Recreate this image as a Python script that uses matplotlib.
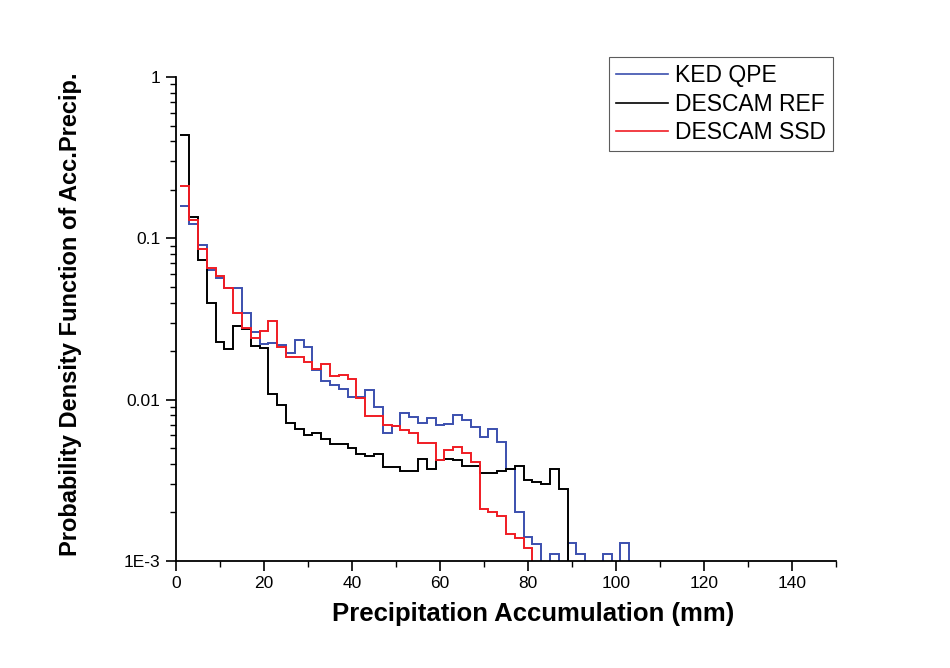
import matplotlib
matplotlib.use('Agg')
import matplotlib.pyplot as plt
from matplotlib.ticker import FixedLocator, FixedFormatter, LogLocator, MultipleLocator, NullFormatter
import numpy as np

plt.rcParams['font.family'] = ['Liberation Sans', 'DejaVu Sans']

# histogram bins of 2 mm, edges at odd mm (1, 3, 5, ... 105)
bin_edges = np.arange(1, 107, 2)

ked_qpe = [0.159, 0.122, 0.091, 0.0636, 0.057, 0.049, 0.049, 0.0346, 0.0261, 0.0222,
           0.0224, 0.0218, 0.0194, 0.0236, 0.0212, 0.0152, 0.0130, 0.0124, 0.0116, 0.0104,
           0.0104, 0.0114, 0.0090, 0.0062, 0.0069, 0.0083, 0.0078, 0.0072, 0.0077, 0.0070,
           0.0071, 0.0080, 0.0075, 0.0068, 0.0059, 0.0066, 0.0055, 0.0037, 0.0020, 0.0014,
           0.00128, 0, 0.0011, 0, 0.0013, 0.0011, 0, 0, 0.0011, 0,
           0.0013, 0]

descam_ref = [0.44, 0.135, 0.073, 0.0395, 0.0229, 0.0205, 0.0286, 0.0273, 0.0215, 0.0208,
              0.0108, 0.0093, 0.0072, 0.0066, 0.0060, 0.0062, 0.0057, 0.0053, 0.0053, 0.0050,
              0.0046, 0.0045, 0.0046, 0.0038, 0.0038, 0.0036, 0.0036, 0.0043, 0.0037, 0.0042,
              0.0043, 0.0042, 0.0039, 0.0039, 0.0035, 0.0035, 0.0036, 0.0037, 0.0039, 0.0032,
              0.0031, 0.0030, 0.0037, 0.0028, 0, 0, 0, 0, 0, 0,
              0, 0]

descam_ssd = [0.212, 0.130, 0.0855, 0.0651, 0.0584, 0.0494, 0.0346, 0.0280, 0.0240, 0.0267,
              0.0308, 0.0213, 0.0185, 0.0184, 0.0172, 0.0156, 0.0167, 0.0141, 0.0143, 0.0134,
              0.0102, 0.0079, 0.0079, 0.0070, 0.0069, 0.0065, 0.0062, 0.0054, 0.0054, 0.0042,
              0.0049, 0.0051, 0.0047, 0.0041, 0.0021, 0.0020, 0.0019, 0.00148, 0.00138, 0.00120,
              0, 0, 0, 0, 0, 0, 0, 0, 0, 0,
              0, 0]

y_ticks = [1e-3, 1e-2, 1e-1, 1]
y_ticklabels = ['1E-3', '0.01', '0.1', '1']

fig = plt.figure(figsize=(9.5, 6.68), dpi=100)
ax = fig.add_axes([176/950, 1-561/668, 660/950, 484/668])
ax.set_yscale('log')

ax.stairs(ked_qpe, bin_edges, baseline=None, color='#3b4fae', lw=1.4, label='KED QPE')
ax.stairs(descam_ref, bin_edges, baseline=None, color='black', lw=1.4, label='DESCAM REF')
ax.stairs(descam_ssd, bin_edges, baseline=None, color='#f01c24', lw=1.4, label='DESCAM SSD')

ax.set_xlim(0, 150)
ax.set_ylim(1e-3, 1)
ax.xaxis.set_major_locator(MultipleLocator(20))
ax.xaxis.set_minor_locator(MultipleLocator(10))
ax.yaxis.set_major_locator(FixedLocator(y_ticks))
ax.yaxis.set_major_formatter(FixedFormatter(y_ticklabels))
ax.yaxis.set_minor_locator(LogLocator(base=10, subs=np.arange(2, 10)))
ax.yaxis.set_minor_formatter(NullFormatter())

for s in ['top', 'right']:
    ax.spines[s].set_visible(False)
for s in ['left', 'bottom']:
    ax.spines[s].set_linewidth(1.3)

ax.tick_params(which='major', direction='out', length=7, width=1.2, labelsize=12.5, pad=4)
ax.tick_params(which='minor', direction='out', length=4, width=1.0)

ax.set_xlabel('Precipitation Accumulation (mm)', fontsize=18.5, fontweight='bold')
ax.set_ylabel('Probability Density Function of Acc.Precip.', fontsize=17, fontweight='bold')
ax.xaxis.set_label_coords(0.541, -0.085)
ax.yaxis.set_label_coords(-0.142, 0.51)

leg = ax.legend(loc='upper right', bbox_to_anchor=(833/950, 1-57/668),
                bbox_transform=fig.transFigure, borderaxespad=0, fontsize=16.5,
                frameon=True, fancybox=False, handlelength=2.3, handletextpad=0.3,
                labelspacing=0.25, borderpad=0.3)
leg.get_frame().set_edgecolor('#333333')
leg.get_frame().set_linewidth(0.8)
for line in leg.get_lines():
    line.set_linewidth(1.2)

fig.savefig('out.png', dpi=100)
